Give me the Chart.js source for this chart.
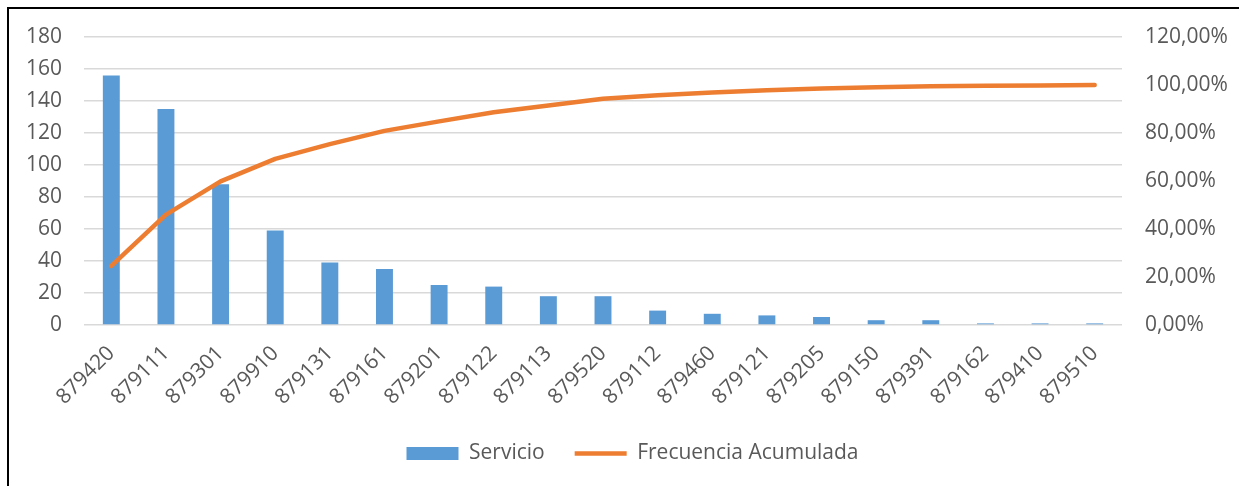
<!DOCTYPE html>
<html>
<head>
<meta charset="utf-8">
<script src="https://cdn.jsdelivr.net/npm/chart.js@4.4.1/dist/chart.umd.min.js"></script>
<style>
html,body{margin:0;padding:0;background:#fff;overflow:hidden;width:1239px;height:486px;}
#wrap{position:absolute;left:0;top:0;width:1239px;height:486px;}
#frame{position:absolute;left:7px;top:7px;width:1300px;height:600px;border:2px solid #000;pointer-events:none;}
</style>
</head>
<body>
<div id="wrap"><canvas id="c" width="1239" height="486"></canvas></div>
<div id="frame"></div>
<script>
const categories = ['879420','879111','879301','879910','879131','879161','879201','879122','879113','879520','879112','879460','879121','879205','879150','879391','879162','879410','879510'];
const servicio = [156, 135, 88, 59, 39, 35, 25, 24, 18, 18, 9, 7, 6, 5, 3, 3, 1, 1, 1];
const frecuenciaAcumulada = [24.64, 45.97, 59.87, 69.19, 75.36, 80.88, 84.83, 88.63, 91.47, 94.31, 95.73, 96.84, 97.79, 98.58, 99.05, 99.53, 99.68, 99.84, 100.00];
const leftAxis = {min: 0, max: 180, step: 20};
const rightAxis = {min: 0, max: 120, step: 20};

const FONT = "'Open Sans', sans-serif";
const TXT = '#595959';

const shiftLegend = {
  id: 'shiftLegend',
  afterLayout(chart) {
    if (chart.legend) { chart.legend.left += 13; chart.legend.right += 13; }
  }
};

new Chart(document.getElementById('c'), {
  data: {
    labels: categories,
    datasets: [
      {
        type: 'bar',
        label: 'Servicio',
        data: servicio,
        backgroundColor: '#5b9bd5',
        borderWidth: 0,
        barPercentage: 0.31,
        categoryPercentage: 1,
        yAxisID: 'y',
        order: 1,
        pointStyle: 'rect'
      },
      {
        type: 'line',
        label: 'Frecuencia Acumulada',
        data: frecuenciaAcumulada,
        borderColor: '#ed7d31',
        backgroundColor: '#ed7d31',
        borderWidth: 4.5,
        borderCapStyle: 'round',
        borderJoinStyle: 'round',
        tension: 0,
        pointRadius: 0,
        pointHoverRadius: 0,
        pointStyle: 'line',
        yAxisID: 'y1',
        order: 0
      }
    ]
  },
  plugins: [shiftLegend],
  options: {
    responsive: false,
    animation: false,
    devicePixelRatio: 1,
    layout: {padding: {top: 37, left: 0, right: 0, bottom: 12}},
    plugins: {
      tooltip: {enabled: false},
      legend: {
        position: 'bottom',
        labels: {
          font: {family: FONT, size: 21},
          color: TXT,
          usePointStyle: true,
          pointStyleWidth: 52,
          boxHeight: 13,
          padding: 30,
          sort: (a, b) => a.datasetIndex - b.datasetIndex
        }
      }
    },
    scales: {
      x: {
        grid: {display: false},
        border: {display: false},
        ticks: {
          font: {family: FONT, size: 21},
          color: TXT,
          minRotation: 45,
          maxRotation: 45,
          autoSkip: false,
          padding: 8
        },
        afterFit: s => { s.height = 88; }
      },
      y: {
        position: 'left',
        min: leftAxis.min,
        max: leftAxis.max,
        ticks: {stepSize: leftAxis.step, font: {family: FONT, size: 21}, color: TXT, padding: 22},
        grid: {color: '#d9d9d9', lineWidth: 1.5, drawTicks: false},
        border: {display: false},
        afterFit: s => { s.width = 84; }
      },
      y1: {
        position: 'right',
        min: rightAxis.min,
        max: rightAxis.max,
        ticks: {
          stepSize: rightAxis.step,
          font: {family: FONT, size: 21},
          color: TXT,
          padding: 23,
          callback: v => v.toFixed(2).replace('.', ',') + '%'
        },
        grid: {display: false, drawTicks: false},
        border: {display: false},
        afterFit: s => { s.width = 117; }
      }
    }
  }
});
</script>
</body>
</html>
